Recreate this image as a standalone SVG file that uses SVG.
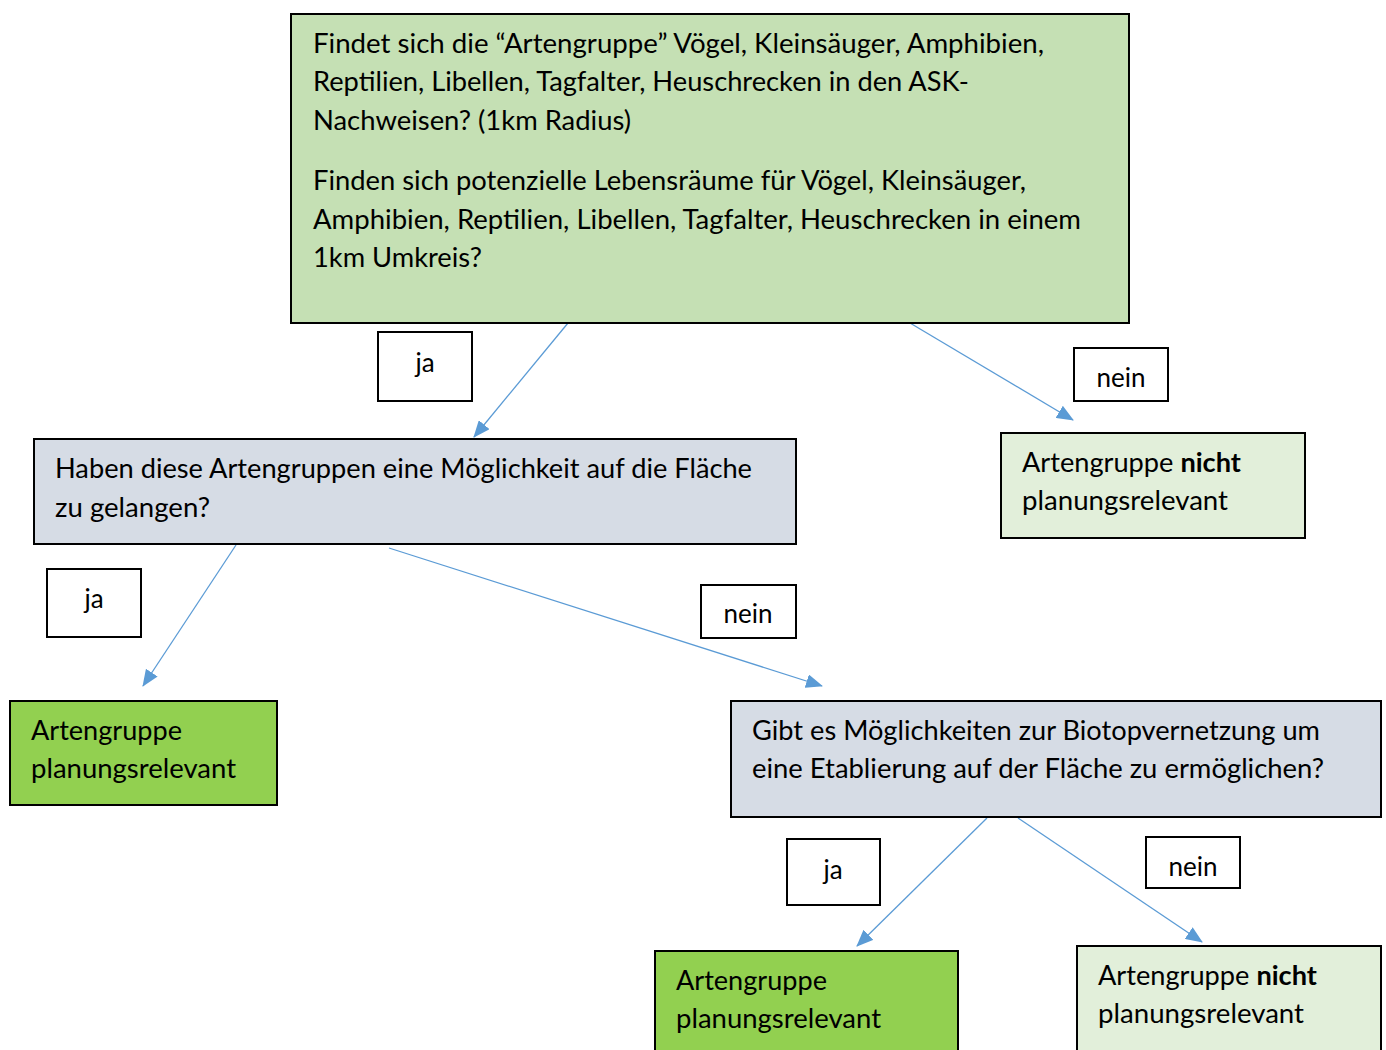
<svg xmlns="http://www.w3.org/2000/svg" width="1386" height="1050" viewBox="0 0 1386 1050">
<style>
.box{stroke:#000;stroke-width:2}
.q1{fill:#C5E0B4}
.q{fill:#D6DCE5}
.yes{fill:#92D050}
.no{fill:#E2EFDA}
.lbl{fill:#fff}
text{font-family:Lato,"Open Sans","Liberation Sans",sans-serif;font-size:26px;fill:#000}
.c{text-anchor:middle}
.e{stroke:#5B9BD5;stroke-width:1.3;fill:none;marker-end:url(#ah)}
</style>
<defs>
<marker id="ah" markerUnits="userSpaceOnUse" markerWidth="18" markerHeight="14" refX="16" refY="7" orient="auto">
<path d="M0,0 L17,7 L0,14 Z" fill="#5B9BD5"/>
</marker>
</defs>
<rect width="1386" height="1050" fill="#fff"/>
<g id="connectors">
<line class="e" x1="568" y1="323" x2="474" y2="437"/>
<line class="e" x1="910" y1="323" x2="1073" y2="420"/>
<line class="e" x1="236" y1="545" x2="143" y2="686"/>
<line class="e" x1="389" y1="548" x2="822" y2="686"/>
<line class="e" x1="987" y1="818" x2="857" y2="946"/>
<line class="e" x1="1018" y1="818" x2="1202" y2="942"/>
</g>
<g id="n_top">
<rect class="box q1" x="291" y="14" width="838" height="309"/>
<text x="313" y="53" textLength="731" lengthAdjust="spacingAndGlyphs">Findet sich die “Artengruppe” Vögel, Kleinsäuger, Amphibien,</text>
<text x="313" y="91" textLength="656" lengthAdjust="spacingAndGlyphs">Reptilien, Libellen, Tagfalter, Heuschrecken in den ASK-</text>
<text x="313" y="130" textLength="318" lengthAdjust="spacingAndGlyphs">Nachweisen? (1km Radius)</text>
<text x="313" y="190" textLength="713" lengthAdjust="spacingAndGlyphs">Finden sich potenzielle Lebensräume für Vögel, Kleinsäuger,</text>
<text x="313" y="229" textLength="768" lengthAdjust="spacingAndGlyphs">Amphibien, Reptilien, Libellen, Tagfalter, Heuschrecken in einem</text>
<text x="313" y="267" textLength="169" lengthAdjust="spacingAndGlyphs">1km Umkreis?</text>
</g>
<g id="n_reach">
<rect class="box q" x="34" y="439" width="762" height="105"/>
<text x="55" y="478" textLength="697" lengthAdjust="spacingAndGlyphs">Haben diese Artengruppen eine Möglichkeit auf die Fläche</text>
<text x="55" y="517" textLength="155" lengthAdjust="spacingAndGlyphs">zu gelangen?</text>
</g>
<g id="n_not1">
<rect class="box no" x="1001" y="433" width="304" height="105"/>
<text x="1022" y="472" textLength="219" lengthAdjust="spacingAndGlyphs">Artengruppe <tspan font-weight="bold">nicht</tspan></text>
<text x="1022" y="510" textLength="206" lengthAdjust="spacingAndGlyphs">planungsrelevant</text>
</g>
<g id="n_rel1">
<rect class="box yes" x="10" y="701" width="267" height="104"/>
<text x="31" y="740" textLength="151" lengthAdjust="spacingAndGlyphs">Artengruppe</text>
<text x="31" y="778" textLength="205" lengthAdjust="spacingAndGlyphs">planungsrelevant</text>
</g>
<g id="n_biotop">
<rect class="box q" x="731" y="701" width="650" height="116"/>
<text x="752" y="740" textLength="568" lengthAdjust="spacingAndGlyphs">Gibt es Möglichkeiten zur Biotopvernetzung um</text>
<text x="752" y="778" textLength="572" lengthAdjust="spacingAndGlyphs">eine Etablierung auf der Fläche zu ermöglichen?</text>
</g>
<g id="n_rel2">
<rect class="box yes" x="655" y="951" width="303" height="110"/>
<text x="676" y="990" textLength="151" lengthAdjust="spacingAndGlyphs">Artengruppe</text>
<text x="676" y="1028" textLength="205" lengthAdjust="spacingAndGlyphs">planungsrelevant</text>
</g>
<g id="n_not2">
<rect class="box no" x="1077" y="946" width="304" height="115"/>
<text x="1098" y="985" textLength="219" lengthAdjust="spacingAndGlyphs">Artengruppe <tspan font-weight="bold">nicht</tspan></text>
<text x="1098" y="1023" textLength="206" lengthAdjust="spacingAndGlyphs">planungsrelevant</text>
</g>
<g id="l_ja1">
<rect class="box lbl" x="378" y="332" width="94" height="69"/>
<text class="c" x="425" y="372">ja</text>
</g>
<g id="l_nein1">
<rect class="box lbl" x="1074" y="348" width="94" height="53"/>
<text class="c" x="1121" y="387">nein</text>
</g>
<g id="l_ja2">
<rect class="box lbl" x="47" y="569" width="94" height="68"/>
<text class="c" x="94" y="608">ja</text>
</g>
<g id="l_nein2">
<rect class="box lbl" x="701" y="585" width="95" height="53"/>
<text class="c" x="748" y="623">nein</text>
</g>
<g id="l_ja3">
<rect class="box lbl" x="787" y="839" width="93" height="66"/>
<text class="c" x="833" y="879">ja</text>
</g>
<g id="l_nein3">
<rect class="box lbl" x="1146" y="837" width="94" height="51"/>
<text class="c" x="1193" y="876">nein</text>
</g>
</svg>
